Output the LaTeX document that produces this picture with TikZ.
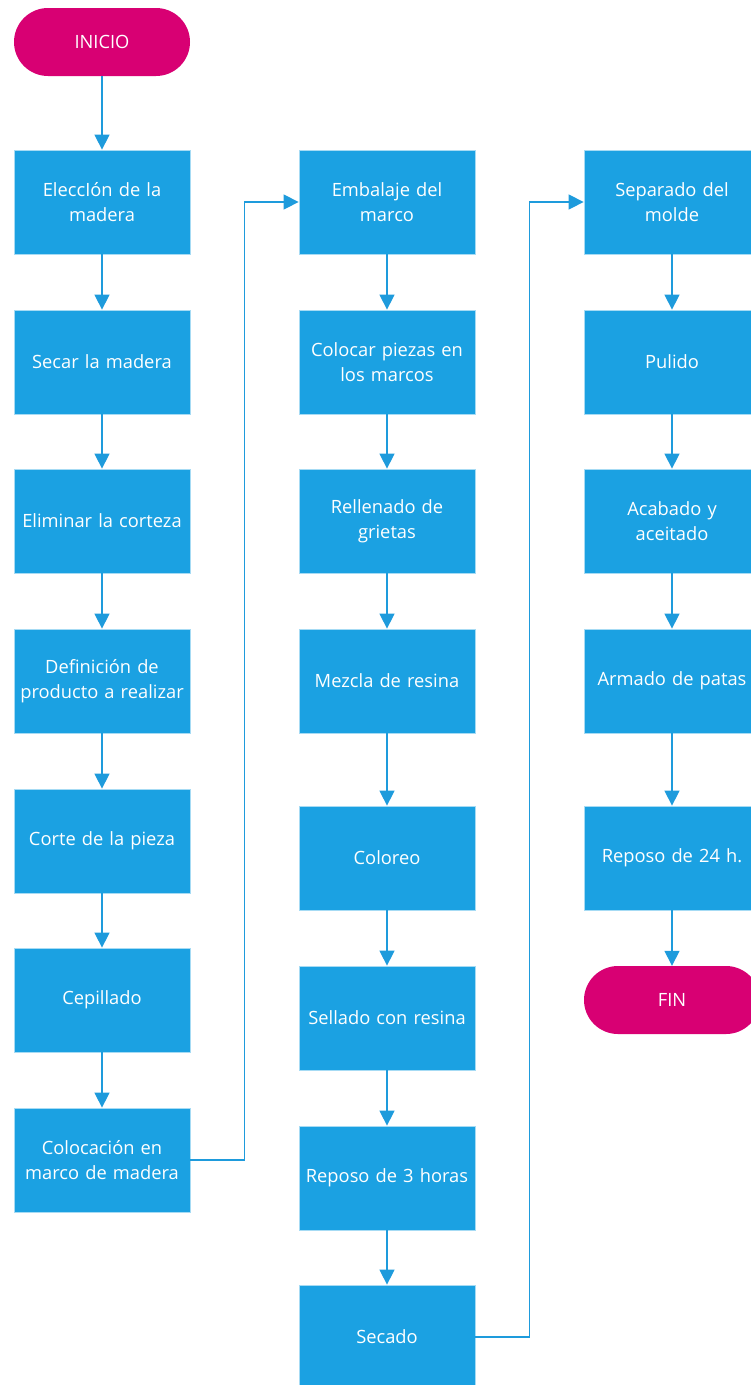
\documentclass[tikz,border=0pt]{standalone}
\usepackage{fontspec}
\setmainfont{Open Sans}
\usetikzlibrary{arrows.meta}
\definecolor{stepblue}{HTML}{1BA1E2}
\definecolor{stepedge}{HTML}{A6DBF4}
\definecolor{linkblue}{HTML}{1E9BDC}
\definecolor{termpink}{HTML}{D80073}
\tikzset{
  stepbox/.style={rectangle, fill=stepblue, draw=stepedge, line width=0.8pt,
    minimum width=176pt, minimum height=104pt, text width=174pt, align=center,
    text=white, font=\fontsize{18.3}{24.5}\selectfont, inner sep=0pt},
  termbox/.style={rectangle, rounded corners=34pt, fill=termpink, draw=none,
    minimum width=176pt, minimum height=68pt, text=white,
    font=\fontsize{18.3}{24.5}\selectfont, inner sep=0pt},
  link/.style={draw=linkblue, line width=1.4pt,
    -{Triangle[length=15pt,width=15pt]}}
}
\begin{document}
\begin{tikzpicture}[x=1pt,y=-1pt]
\useasboundingbox (0,0) rectangle (751,1385);
\begin{scope}
\clip (0,0) rectangle (751,1385);
% column one
\node[termbox] (inicio) at (102,42) {INICIO};
\node[stepbox] (a1) at (102,202) {EleccIón de la\\madera};
\node[stepbox] (a2) at (102,362) {Secar la madera};
\node[stepbox] (a3) at (102,521) {Eliminar la corteza};
\node[stepbox] (a4) at (102,681) {Definición de\\producto a realizar};
\node[stepbox] (a5) at (102,841) {Corte de la pieza};
\node[stepbox] (a6) at (102,1000) {Cepillado};
\node[stepbox] (a7) at (102,1160) {Colocación en\\marco de madera};
% column two
\node[stepbox] (b1) at (387,202) {Embalaje del\\marco};
\node[stepbox] (b2) at (387,362) {Colocar piezas en\\los marcos};
\node[stepbox] (b3) at (387,521) {Rellenado de\\grietas};
\node[stepbox] (b4) at (387,681) {Mezcla de resina};
\node[stepbox] (b5) at (387,858) {Coloreo};
\node[stepbox] (b6) at (387,1018) {Sellado con resina};
\node[stepbox] (b7) at (387,1178) {Reposo de 3 horas};
\node[stepbox] (b8) at (387,1337) {Secado};
% column three
\node[stepbox] (c1) at (672,202) {Separado del\\molde};
\node[stepbox] (c2) at (672,362) {Pulido};
\node[stepbox] (c3) at (672,521) {Acabado y\\aceitado};
\node[stepbox] (c4) at (672,681) {Armado de patas};
\node[stepbox] (c5) at (672,858) {Reposo de 24 h.};
\node[termbox] (fin) at (672,1000) {FIN};
% connectors
\draw[link] (inicio) -- (a1);
\draw[link] (a1) -- (a2);
\draw[link] (a2) -- (a3);
\draw[link] (a3) -- (a4);
\draw[link] (a4) -- (a5);
\draw[link] (a5) -- (a6);
\draw[link] (a6) -- (a7);
\draw[link] (a7.east) -- ++(54,0) |- (b1.west);
\draw[link] (b1) -- (b2);
\draw[link] (b2) -- (b3);
\draw[link] (b3) -- (b4);
\draw[link] (b4) -- (b5);
\draw[link] (b5) -- (b6);
\draw[link] (b6) -- (b7);
\draw[link] (b7) -- (b8);
\draw[link] (b8.east) -- ++(54,0) |- (c1.west);
\draw[link] (c1) -- (c2);
\draw[link] (c2) -- (c3);
\draw[link] (c3) -- (c4);
\draw[link] (c4) -- (c5);
\draw[link] (c5) -- (fin);
\end{scope}
\end{tikzpicture}
\end{document}
